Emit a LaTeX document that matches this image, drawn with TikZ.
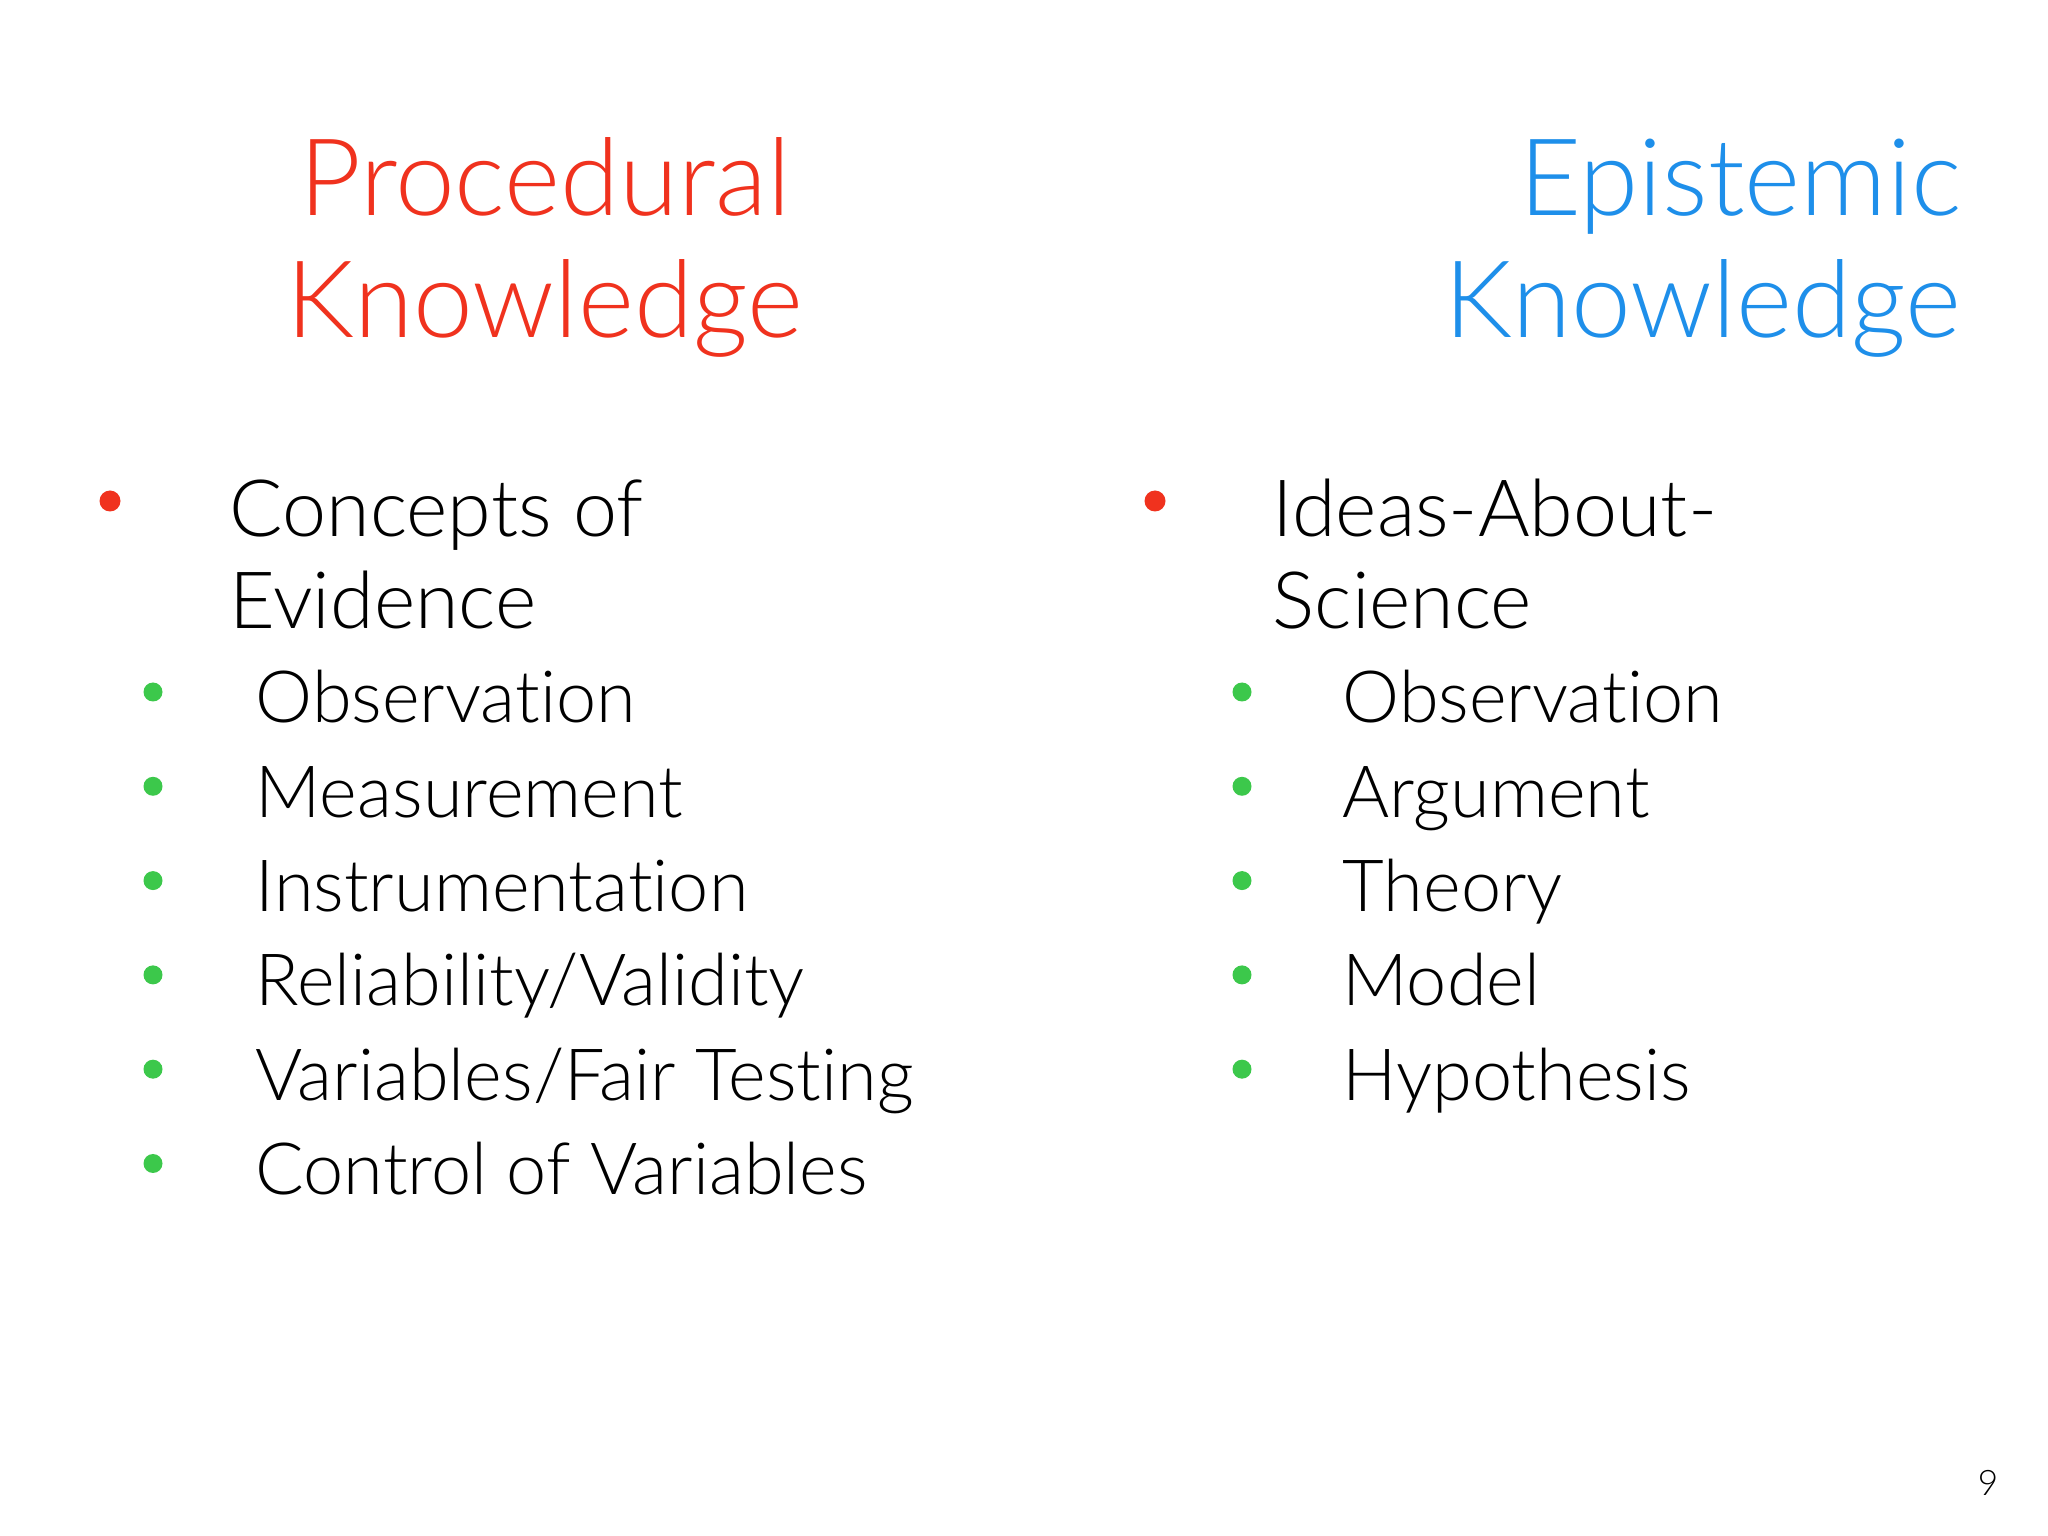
\documentclass[tikz,border=0pt]{standalone}
\usepackage{fontspec}
\setmainfont{Lato Light}[Ligatures={NoCommon}]
\definecolor{tred}{HTML}{F0321E}
\definecolor{tblue}{HTML}{1E8FEA}
\definecolor{bgreen}{HTML}{3CC84B}
\begin{document}
\begin{tikzpicture}[
  title/.style={font=\fontsize{30.5}{36}\selectfont, inner sep=0pt, align=center},
  lone/.style={anchor=base west, inner sep=0pt, font=\fontsize{22.5}{27}\selectfont, align=left},
  ltwo/.style={anchor=base west, inner sep=0pt, font=\fontsize{20.5}{25}\selectfont},
  rdot/.style={circle, fill=tred, inner sep=0pt, minimum size=0.21cm},
  gdot/.style={circle, fill=bgreen, inner sep=0pt, minimum size=0.19cm}]
\useasboundingbox (0,0) rectangle (20.48,-15.36);
\fill[white] (0,0) rectangle (20.48,-15.36);
% titles
\node[title, text=tred, anchor=base] (t1a) at (5.45,-2.16) {Procedural};
\node[title, text=tred, anchor=base] (t1b) at (5.45,-3.38) {Knowledge};
\node[title, text=tblue, anchor=base east] (t2a) at (19.62,-2.16) {Epistemic};
\node[title, text=tblue, anchor=base east] (t2b) at (19.62,-3.38) {Knowledge};
% left column
\node[rdot] (lb) at (1.10,-5.01) {};
\node[lone] (l1a) at (2.29,-5.37) {Concepts of};
\node[lone] (l1b) at (2.29,-6.29) {Evidence};
\foreach \t [count=\i] in {Observation,Measurement,Instrumentation,Reliability/Validity,Variables/Fair Testing,Control of Variables}{
  \pgfmathsetmacro\yy{-7.23-0.943*(\i-1)}
  \node[gdot] (lg\i) at (1.53,\yy+0.31) {};
  \node[ltwo] (lt\i) at (2.55,\yy) {\t};
}
% right column
\node[rdot] (rb) at (11.55,-5.01) {};
\node[lone] (r1a) at (12.72,-5.37) {Ideas-About-};
\node[lone] (r1b) at (12.72,-6.29) {Science};
\foreach \t [count=\i] in {Observation,Argument,Theory,Model,Hypothesis}{
  \pgfmathsetmacro\yy{-7.23-0.943*(\i-1)}
  \node[gdot] (rg\i) at (12.42,\yy+0.31) {};
  \node[ltwo] (rt\i) at (13.42,\yy) {\t};
}
\node[anchor=base, inner sep=0pt, font=\fontsize{10}{12}\selectfont] (pg) at (19.88,-14.95) {9};
\end{tikzpicture}
\end{document}
